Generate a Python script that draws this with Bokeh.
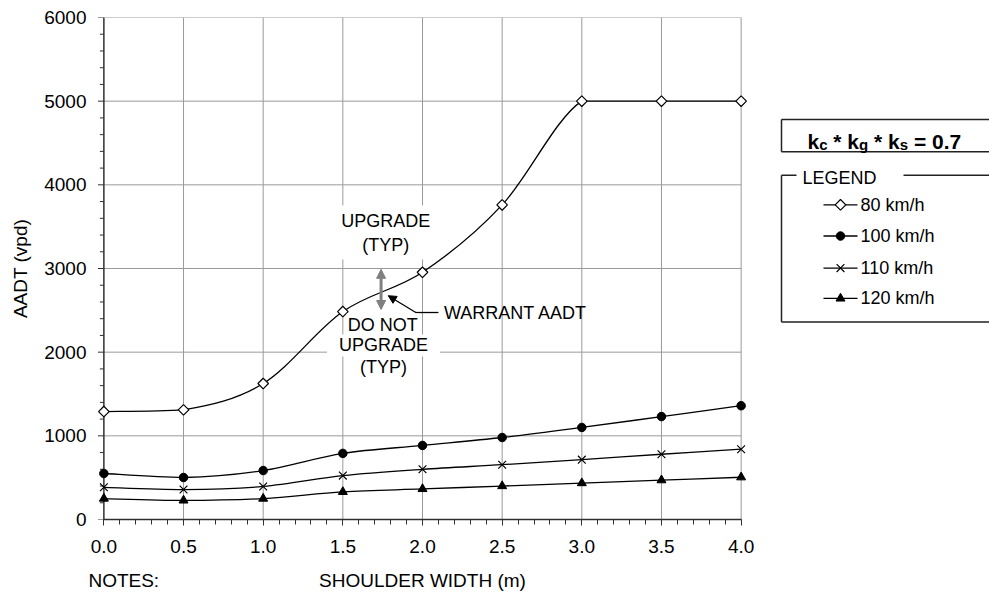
import numpy as np
from bokeh.plotting import figure
from bokeh.models import (Range1d, SingleIntervalTicker, FixedTicker, NumeralTickFormatter, Label,
                          Arrow, NormalHead, LinearAxis)
from bokeh.layouts import row
from bokeh.embed import file_html
from bokeh.resources import INLINE

# ---------------- data ----------------
shoulder_width = [0.0, 0.5, 1.0, 1.5, 2.0, 2.5, 3.0, 3.5, 4.0]
aadt_80 = [1290, 1310, 1625, 2485, 2955, 3760, 5000, 5000, 5000]
aadt_100 = [550, 502, 585, 790, 885, 980, 1100, 1230, 1360]
aadt_110 = [385, 358, 395, 525, 600, 655, 715, 780, 840]
aadt_120 = [250, 228, 250, 330, 365, 400, 435, 470, 505]
series_names = ["80 km/h", "100 km/h", "110 km/h", "120 km/h"]
x_ticks = [0.0, 0.5, 1.0, 1.5, 2.0, 2.5, 3.0, 3.5, 4.0]
y_ticks = [0, 1000, 2000, 3000, 4000, 5000, 6000]
x_title = "SHOULDER WIDTH (m)"
notes_text = "NOTES:"

FONT = "Liberation Sans"
GRID = "#9a9a9a"
AXIS = "#303030"
FS = "18px"
FS_AX = "19px"


def smooth_segments(xs, ys):
    """Cardinal (Catmull-Rom) bezier control points, clamped per segment."""
    xs = np.asarray(xs, float)
    ys = np.asarray(ys, float)
    n = len(xs)
    px = np.concatenate([[xs[0]], xs, [xs[-1]]])
    py = np.concatenate([[ys[0]], ys, [ys[-1]]])
    out = {k: [] for k in ("x0", "y0", "x1", "y1", "cx0", "cy0", "cx1", "cy1")}
    for i in range(n - 1):
        a, b = i + 1, i + 2
        c0x = px[a] + (px[b] - px[a - 1]) / 6.0
        c0y = py[a] + (py[b] - py[a - 1]) / 6.0
        c1x = px[b] - (px[b + 1] - px[a]) / 6.0
        c1y = py[b] - (py[b + 1] - py[a]) / 6.0
        lo, hi = min(py[a], py[b]), max(py[a], py[b])
        out["x0"].append(px[a]); out["y0"].append(py[a])
        out["x1"].append(px[b]); out["y1"].append(py[b])
        out["cx0"].append(c0x); out["cy0"].append(min(max(c0y, lo), hi))
        out["cx1"].append(c1x); out["cy1"].append(min(max(c1y, lo), hi))
    return out


marker_styles = [
    dict(marker="square", angle=np.pi / 4, size=7.5, fill_color="white", line_color="black", line_width=1.2),
    dict(marker="circle", size=8.5, fill_color="black", line_color="black", line_width=1),
    dict(marker="x", size=11, line_color="black", line_width=1.2),
    dict(marker="triangle", size=9, fill_color="black", line_color="black", line_width=1),
]
series_values = [aadt_80, aadt_100, aadt_110, aadt_120]

# ---------------- main chart ----------------
PAD = 0.04
W1, H = 770, 595
p = figure(width=W1, height=H, x_range=Range1d(x_ticks[0] - PAD, x_ticks[-1] + PAD),
           y_range=Range1d(y_ticks[0], y_ticks[-1]),
           output_backend="svg", toolbar_location=None,
           min_border_left=97, min_border_right=23, min_border_top=17, min_border_bottom=76)
p.outline_line_color = None
p.grid.visible = False

xa = p.xaxis[0]
xa.ticker = SingleIntervalTicker(interval=0.5, num_minor_ticks=5)
xa.formatter = NumeralTickFormatter(format="0.0")
xa.bounds = (x_ticks[0], x_ticks[-1])
xa.major_label_standoff = 14
xa.axis_line_color = AXIS
xa.axis_line_width = 1.5
xa.major_tick_line_color = AXIS
xa.minor_tick_line_color = AXIS
xa.major_tick_in = 0
xa.minor_tick_in = 0
xa.major_tick_out = 6
xa.minor_tick_out = 5

# second text row below the tick labels: axis title (centred) and the notes caption
title_x = (x_ticks[0] + x_ticks[-1]) / 2
notes_x = 0.125
xa2 = LinearAxis(ticker=FixedTicker(ticks=[notes_x, title_x], minor_ticks=[]),
                 major_label_overrides={notes_x: notes_text, title_x: x_title},
                 axis_line_color=None, major_tick_line_color=None, minor_tick_line_color=None,
                 major_tick_in=0, major_tick_out=0, minor_tick_in=0, minor_tick_out=0,
                 major_label_standoff=14)
p.add_layout(xa2, "below")

ya = p.yaxis[0]
ya.ticker = SingleIntervalTicker(interval=1000, num_minor_ticks=5)
ya.formatter = NumeralTickFormatter(format="0")
ya.axis_label = "AADT (vpd)"
ya.major_label_standoff = 11
ya.axis_label_standoff = 10
ya.axis_line_color = None
ya.major_tick_line_color = None
ya.minor_tick_line_color = None
ya.major_tick_in = 0
ya.major_tick_out = 0
ya.minor_tick_in = 0
ya.minor_tick_out = 0

for ax in (xa, xa2, ya):
    ax.major_label_text_font = FONT
    ax.major_label_text_font_size = FS_AX
    ax.major_label_text_color = "black"
    ax.axis_label_text_font = FONT
    ax.axis_label_text_font_size = FS_AX
    ax.axis_label_text_font_style = "normal"
    ax.axis_label_text_color = "black"

# gridlines from tick arrays
vx = [t for t in x_ticks if t > x_ticks[0]]
p.segment(x0=vx, y0=[y_ticks[0]] * len(vx), x1=vx, y1=[y_ticks[-1]] * len(vx),
          line_color=GRID, line_width=1)
hy = [t for t in y_ticks if t > y_ticks[0]]
p.segment(x0=[x_ticks[0]] * len(hy), y0=hy, x1=[x_ticks[-1]] * len(hy), y1=hy,
          line_color=GRID, line_width=1)

# y axis line and outward ticks at x = 0
px_per_unit = 650.0 / (x_ticks[-1] - x_ticks[0] + 2 * PAD)
maj_len = 6 / px_per_unit
min_len = 4 / px_per_unit
y_minor = [y_ticks[i] + (y_ticks[i + 1] - y_ticks[i]) * k / 5.0
           for i in range(len(y_ticks) - 1) for k in range(1, 5)]
p.segment(x0=[x_ticks[0] - maj_len] * len(y_ticks), y0=y_ticks,
          x1=[x_ticks[0]] * len(y_ticks), y1=y_ticks, line_color=AXIS, line_width=1)
p.segment(x0=[x_ticks[0] - min_len] * len(y_minor), y0=y_minor,
          x1=[x_ticks[0]] * len(y_minor), y1=y_minor, line_color=AXIS, line_width=1)

for vals in series_values:
    seg = smooth_segments(shoulder_width, vals)
    p.bezier(x0=seg["x0"], y0=seg["y0"], x1=seg["x1"], y1=seg["y1"],
             cx0=seg["cx0"], cy0=seg["cy0"], cx1=seg["cx1"], cy1=seg["cy1"],
             line_color="black", line_width=1.3)
p.segment(x0=[x_ticks[0]], y0=[y_ticks[0]], x1=[x_ticks[0]], y1=[y_ticks[-1]],
          line_color=AXIS, line_width=1.5)
for vals, ms in zip(series_values, marker_styles):
    p.scatter(x=shoulder_width, y=vals, **ms)

# annotations
GRAY = "#808080"
p.add_layout(Arrow(start=NormalHead(size=9, fill_color=GRAY, line_color=GRAY),
                   end=NormalHead(size=9, fill_color=GRAY, line_color=GRAY),
                   x_start=1.74, y_start=2510, x_end=1.74, y_end=2990,
                   line_color=GRAY, line_width=3))
p.add_layout(Arrow(end=None, x_start=2.10, y_start=2474, x_end=1.955, y_end=2474,
                   line_color="black", line_width=1.3))
p.add_layout(Arrow(end=NormalHead(size=8, fill_color="black", line_color="black"),
                   x_start=1.958, y_start=2474, x_end=1.785, y_end=2675,
                   line_color="black", line_width=1.3))


def lab(x, y, text, align="center", bg=None, pad=0):
    p.add_layout(Label(x=x, y=y, text=text, text_align=align, text_baseline="middle",
                       text_font=FONT, text_font_size=FS, text_color="black",
                       background_fill_color=bg, padding=pad))


lab(1.77, 3430, "UPGRADE\n(TYP)", bg="white", pad=5)
lab(1.755, 2080, "UPGRADE", bg="white", pad=(12, 1))
lab(1.75, 2330, "DO NOT", bg="white", pad=1)
lab(1.755, 1817, "(TYP)")
lab(2.135, 2465, "WARRANT AADT", align="left")

# ---------------- legend panel ----------------
W2 = 989 - W1
q = figure(width=W2, height=H, x_range=Range1d(0, W2), y_range=Range1d(H, 0),
           output_backend="svg", toolbar_location=None,
           min_border=0, min_border_left=0, min_border_right=0, min_border_top=0, min_border_bottom=0)
q.axis.visible = False
q.grid.visible = False
q.outline_line_color = None

BOX = "#222222"
# k-factor box and legend box outlines (panel pixel coordinates)
q.segment(x0=[11, 11, 11, 11, 133, 11, 11], y0=[121, 121, 159, 187, 187, 187, 361],
          x1=[240, 11, 240, 26, 240, 11, 240], y1=[121, 159, 159, 187, 187, 361, 361],
          line_color=BOX, line_width=1.5)

# bold k-factor text with subscripts (tokens, spaces only advance)
bold_w = {"k": .556, "c": .556, "g": .611, "s": .556, " ": .278, "*": .389,
          "=": .584, "0": .556, ".": .278, "7": .556}
tokens = [("k", 0), ("c", 1), (" ", 0), ("*", 0), (" ", 0), ("k", 0), ("g", 1), (" ", 0),
          ("*", 0), (" ", 0), ("k", 0), ("s", 1), (" ", 0), ("=", 0), (" ", 0), ("0.7", 0)]
cx = 37.0
BASE = 147
for txt, sub in tokens:
    size = 15 if sub else 21
    if txt.strip():
        q.add_layout(Label(x=cx, y=(BASE + 4 if sub else BASE), text=txt, text_align="left",
                           text_baseline="alphabetic", text_font=FONT,
                           text_font_size=f"{size}px", text_font_style="bold", text_color="black"))
    cx += sum(bold_w[ch] for ch in txt) * size

q.add_layout(Label(x=32, y=190, text="LEGEND", text_align="left", text_baseline="middle",
                   text_font=FONT, text_font_size=FS, text_color="black"))

item_y = [222, 259, 297, 333]
q.segment(x0=[53] * 4, y0=item_y, x1=[87] * 4, y1=item_y, line_color="black", line_width=1.3)
for yy, ms, name in zip(item_y, marker_styles, series_names):
    q.scatter(x=[70], y=[yy], **ms)
    q.add_layout(Label(x=90, y=yy, text=name, text_align="left", text_baseline="middle",
                       text_font=FONT, text_font_size=FS, text_color="black"))

layout = row(p, q)
open("out.html", "w").write(file_html(layout, INLINE))
